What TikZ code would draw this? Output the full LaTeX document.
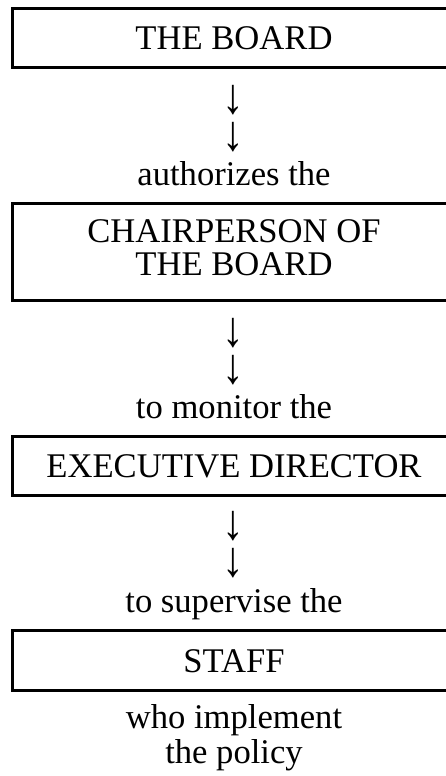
\documentclass[tikz,border=0pt]{standalone}
\usepackage{fontspec}
\setmainfont{Liberation Serif}
\newcommand{\darr}{\scalebox{1.25}[1.45]{↓}}
\begin{document}
\begin{tikzpicture}[x=1pt,y=1pt,
  every node/.style={font=\fontsize{34.6}{35}\selectfont, inner sep=0pt},
  box/.style={draw, line width=3pt, minimum width=443pt, anchor=north},
  txt/.style={anchor=base, align=center},
  arr/.style={anchor=south, align=center, text depth=0pt,
    font=\fontsize{34.6}{37}\selectfont}]
\useasboundingbox (0,0) rectangle (446,-776);
% boxes
\node[box, minimum height=58.5pt] (b1) at (234,-7.5) {};
\node[box, minimum height=97pt] (b2) at (234,-201.5) {};
\node[box, minimum height=59pt] (b3) at (234,-434.5) {};
\node[box, minimum height=59.5pt] (b4) at (234,-629) {};
% texts
\node[txt] (t1) at (234,-50) {THE BOARD};
\node[arr] (a1) at (233,-150.5) {\darr\\\darr};
\node[txt] (l1) at (234,-185) {authorizes the};
\node[txt] (t2a) at (234,-242) {CHAIRPERSON OF};
\node[txt] (t2b) at (234,-275) {THE BOARD};
\node[arr] (a2) at (233,-383.5) {\darr\\\darr};
\node[txt] (l2) at (234,-418) {to monitor the};
\node[txt] (t3) at (234,-477) {EXECUTIVE DIRECTOR};
\node[arr] (a3) at (233,-577) {\darr\\\darr};
\node[txt] (l3) at (234,-612) {to supervise the};
\node[txt] (t4) at (234,-672) {STAFF};
\node[txt] (l4a) at (234,-728) {who implement};
\node[txt] (l4b) at (234,-763) {the policy};
\end{tikzpicture}
\end{document}
